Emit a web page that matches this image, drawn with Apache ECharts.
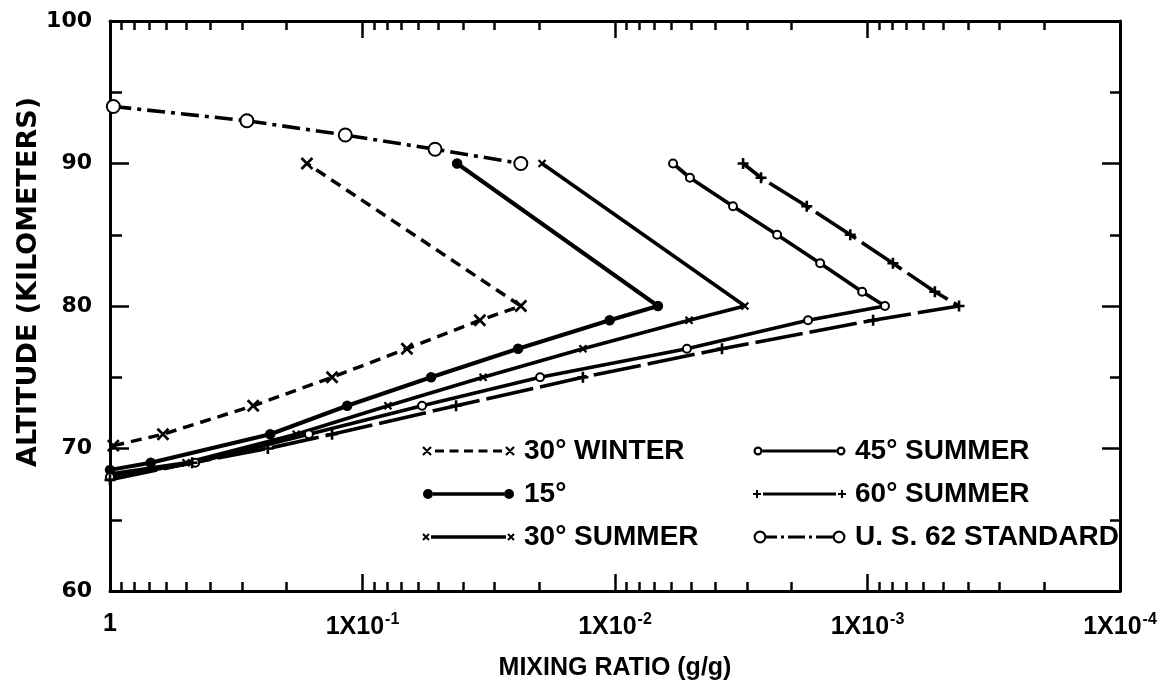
<!DOCTYPE html>
<html>
<head>
<meta charset="utf-8">
<script src="https://cdn.jsdelivr.net/npm/echarts@6/dist/echarts.min.js"></script>
<style>
  html, body { margin: 0; padding: 0; background: #fff; }
  #main { width: 1175px; height: 691px; }
</style>
</head>
<body>
<div id="main"></div>
<script>
// [mixing ratio (g/g), altitude (km)]
var winter30 = [[0.97, 70.2], [0.617, 71], [0.271, 73], [0.132, 75], [0.0667, 77], [0.0343, 79], [0.0236, 80], [0.166, 90]];
var lat15 = [[1, 68.5], [0.69, 69], [0.232, 71], [0.115, 73], [0.0535, 75], [0.0242, 77], [0.0105, 79], [0.00676, 80], [0.0422, 90]];
var summer30 = [[1, 68.2], [0.5, 69], [0.183, 71], [0.0793, 73], [0.0333, 75], [0.0134, 77], [0.00509, 79], [0.00306, 80], [0.01945, 90]];
var summer45 = [[1, 68], [0.46, 69], [0.163, 71], [0.0581, 73], [0.0198, 75], [0.00519, 77], [0.00172, 79], [0.000853, 80],
                [0.00105, 81], [0.00154, 83], [0.00228, 85], [0.00341, 87], [0.00505, 89], [0.00589, 90]];
var summer60 = [[1, 67.8], [0.473, 69], [0.237, 70], [0.132, 71], [0.0426, 73], [0.0134, 75], [0.00377, 77], [0.00095, 79], [0.000434, 80],
                [0.000541, 81], [0.000793, 83], [0.00117, 85], [0.00174, 87], [0.00264, 89], [0.00311, 90]];
var std62 = [[0.97, 94], [0.287, 93], [0.117, 92], [0.0516, 91], [0.0236, 90]];

var decades = [0, -1, -2, -3, -4];          // major ticks, log10 of mixing ratio
var minorSteps = [2, 3, 4, 5, 6, 7, 8, 9];  // minor ticks inside each decade
var altMajor = [60, 70, 80, 90, 100];
var altMinor = [65, 75, 85, 95];

var minorVals = [];
for (var d = 1; d <= 4; d++) {
  minorSteps.forEach(function (k) { minorVals.push(Math.log10(k) - d); });
}

var FONT = 'Liberation Sans';
var WIDE = 'DejaVu Sans';
var PLOT_W = 1175 - 110 - 55;

// legend icons (93 x 16 box)
function seg(x1, y1, x2, y2, w) {
  var dx = x2 - x1, dy = y2 - y1, len = Math.sqrt(dx * dx + dy * dy);
  var nx = -dy / len * w / 2, ny = dx / len * w / 2;
  return 'M' + (x1 + nx) + ' ' + (y1 + ny) + 'L' + (x2 + nx) + ' ' + (y2 + ny) +
         'L' + (x2 - nx) + ' ' + (y2 - ny) + 'L' + (x1 - nx) + ' ' + (y1 - ny) + 'Z';
}
function disc(cx, cy, r, sweep) {
  return 'M' + (cx - r) + ' ' + cy + 'A' + r + ' ' + r + ' 0 1 ' + sweep + ' ' + (cx + r) + ' ' + cy +
         'A' + r + ' ' + r + ' 0 1 ' + sweep + ' ' + (cx - r) + ' ' + cy + 'Z';
}
function ring(cx, cy, r1, r2) { return disc(cx, cy, r1, 0) + disc(cx, cy, r2, 1); }
function cross(cx, cy, a, w) { return seg(cx - a, cy - a, cx + a, cy + a, w) + seg(cx - a, cy + a, cx + a, cy - a, w); }
function plus(cx, cy, a, w) { return seg(cx - a, cy, cx + a, cy, w) + seg(cx, cy - a, cx, cy + a, w); }
var box = 'M0 0L0.01 0L0.01 0.01Z M93 16L92.99 16L92.99 15.99Z';

var iconWinter = 'path://' + box + cross(5, 8, 4, 2.2) + cross(88, 8, 4, 2.2) +
  seg(13, 8, 22, 8, 3) + seg(27.5, 8, 36.5, 8, 3) + seg(42, 8, 51, 8, 3) + seg(56.5, 8, 65.5, 8, 3) + seg(71, 8, 80, 8, 3);
var icon15 = 'path://' + box + disc(6, 8, 5, 0) + disc(87, 8, 5, 0) + seg(11, 8, 82, 8, 3.5);
var iconS30 = 'path://' + box + cross(4, 8, 3, 2) + cross(89, 8, 3, 2) + seg(9, 8, 84, 8, 3.5);
var iconS45 = 'path://' + box + ring(5, 8, 4.5, 2.3) + ring(88, 8, 4.5, 2.3) + seg(9.5, 8, 83.5, 8, 3);
var iconS60 = 'path://' + box + plus(4, 8, 4, 2) + plus(89, 8, 4, 2) + seg(10, 8, 83, 8, 3);
var iconStd = 'path://' + box + ring(7, 8, 6.5, 4.3) + ring(86, 8, 6.5, 4.3) +
  seg(13.5, 8, 24, 8, 3) + seg(28, 8, 31, 8, 3) + seg(35, 8, 52, 8, 3) + seg(56, 8, 59, 8, 3) + seg(63, 8, 79.5, 8, 3);

var markX = 'path://M0 0L10 10M10 0L0 10';
var markPlus = 'path://M5 0L5 10M0 5L10 5';

function lineSeries(name, data, dash, width, symbol, size, border) {
  return {
    name: name, type: 'line', data: data, xAxisIndex: 0, yAxisIndex: 0,
    symbol: symbol, symbolSize: size, showSymbol: true,
    lineStyle: { color: '#000', width: width, type: dash },
    itemStyle: { color: '#000', borderColor: '#000', borderWidth: border },
    emphasis: { disabled: true }
  };
}

var tickStyle = { color: '#000', width: 2.5 };
var axisLineStyle = { color: '#000', width: 3 };

function tickAxis(pos, values, len, showLine, withLabels) {
  return {
    type: 'value', position: pos, min: -4, max: 0, interval: 1, inverse: true,
    axisLine: { show: showLine, lineStyle: axisLineStyle },
    axisTick: { show: true, inside: true, length: len, customValues: values, lineStyle: tickStyle },
    axisLabel: withLabels ? {
      show: true, margin: 21, color: '#000',
      formatter: function (v) { return v === 0 ? '{m|1}' : '{m|1X10}{e|' + v + '}'; },
      rich: {
        m: { fontFamily: FONT, fontSize: 25, fontWeight: 'bold', color: '#000' },
        e: { fontFamily: FONT, fontSize: 16, fontWeight: 'bold', color: '#000', padding: [0, 0, 15, 1] }
      }
    } : { show: false },
    splitLine: { show: false },
    name: withLabels ? 'MIXING RATIO (g/g)' : '',
    nameLocation: 'middle', nameGap: 65,
    nameTextStyle: { fontFamily: FONT, fontSize: 25, fontWeight: 'bold', color: '#000' }
  };
}

// all altitude axes sit on the left; the right-hand frame is a left axis pushed across the grid
function altAxis(rightSide, values, len, showLine, withLabels) {
  return {
    type: 'value', position: 'left', offset: rightSide ? -PLOT_W : 0,
    min: altMajor[0], max: altMajor[altMajor.length - 1], interval: 10,
    axisLine: { show: showLine, lineStyle: axisLineStyle },
    axisTick: { show: true, inside: !rightSide, length: len, customValues: values, lineStyle: tickStyle },
    axisLabel: { show: withLabels, margin: 18, fontFamily: WIDE, fontSize: 22, fontWeight: 'bold', color: '#000' },
    splitLine: { show: false },
    name: withLabels ? 'ALTITUDE (KILOMETERS)' : '',
    nameLocation: 'middle', nameGap: 68, nameMoveOverlap: false,
    nameTextStyle: { fontFamily: WIDE, fontSize: 27, fontWeight: 'bold', color: '#000', padding: [0, 0, 0, 48] }
  };
}

var legendText = { fontFamily: FONT, fontSize: 28, fontWeight: 'bold', color: '#000', lineHeight: 30, padding: [0, 0, 0, 4] };
function legendBlock(left, items) {
  return {
    orient: 'vertical', left: left, top: 431, itemWidth: 93, itemHeight: 16, itemGap: 13,
    selectedMode: false, itemStyle: { borderWidth: 0 }, textStyle: legendText, data: items
  };
}

var chart = echarts.init(document.getElementById('main'), null, { renderer: 'canvas' });
chart.setOption({
  animation: false,
  backgroundColor: '#fff',
  grid: { left: 110, right: 55, top: 21, bottom: 100, containLabel: false, outerBoundsMode: 'none' },
  xAxis: [
    { type: 'log', logBase: 10, min: 0.0001, max: 1, inverse: true, position: 'bottom', show: false },
    tickAxis('bottom', decades, 17, true, true),
    tickAxis('bottom', minorVals, 9, false, false),
    tickAxis('top', decades, 17, true, false),
    tickAxis('top', minorVals, 9, false, false)
  ],
  yAxis: [
    altAxis(false, altMajor, 19, true, true),
    altAxis(false, altMinor, 12, false, false),
    altAxis(true, altMajor, 18, true, false),
    altAxis(true, altMinor, 10, false, false)
  ],
  legend: [
    legendBlock(417, [
      { name: '30° WINTER', icon: iconWinter },
      { name: '15°', icon: icon15 },
      { name: '30° SUMMER', icon: iconS30 }
    ]),
    legendBlock(748, [
      { name: '45° SUMMER', icon: iconS45 },
      { name: '60° SUMMER', icon: iconS60 },
      { name: 'U. S. 62 STANDARD', icon: iconStd }
    ])
  ],
  series: [
    lineSeries('30° WINTER', winter30, [11, 7], 3.5, markX, 11, 2.6),
    lineSeries('15°', lat15, 'solid', 4, 'circle', 9, 1.5),
    lineSeries('30° SUMMER', summer30, 'solid', 3.6, markX, 7, 2.3),
    lineSeries('45° SUMMER', summer45, 'solid', 3.6, 'emptyCircle', 8, 2.2),
    lineSeries('60° SUMMER', summer60, [48, 7], 3.6, markPlus, 11, 2.6),
    lineSeries('U. S. 62 STANDARD', std62, [18, 6, 4, 6], 3.6, 'emptyCircle', 13, 2.6)
  ]
});
</script>
</body>
</html>
